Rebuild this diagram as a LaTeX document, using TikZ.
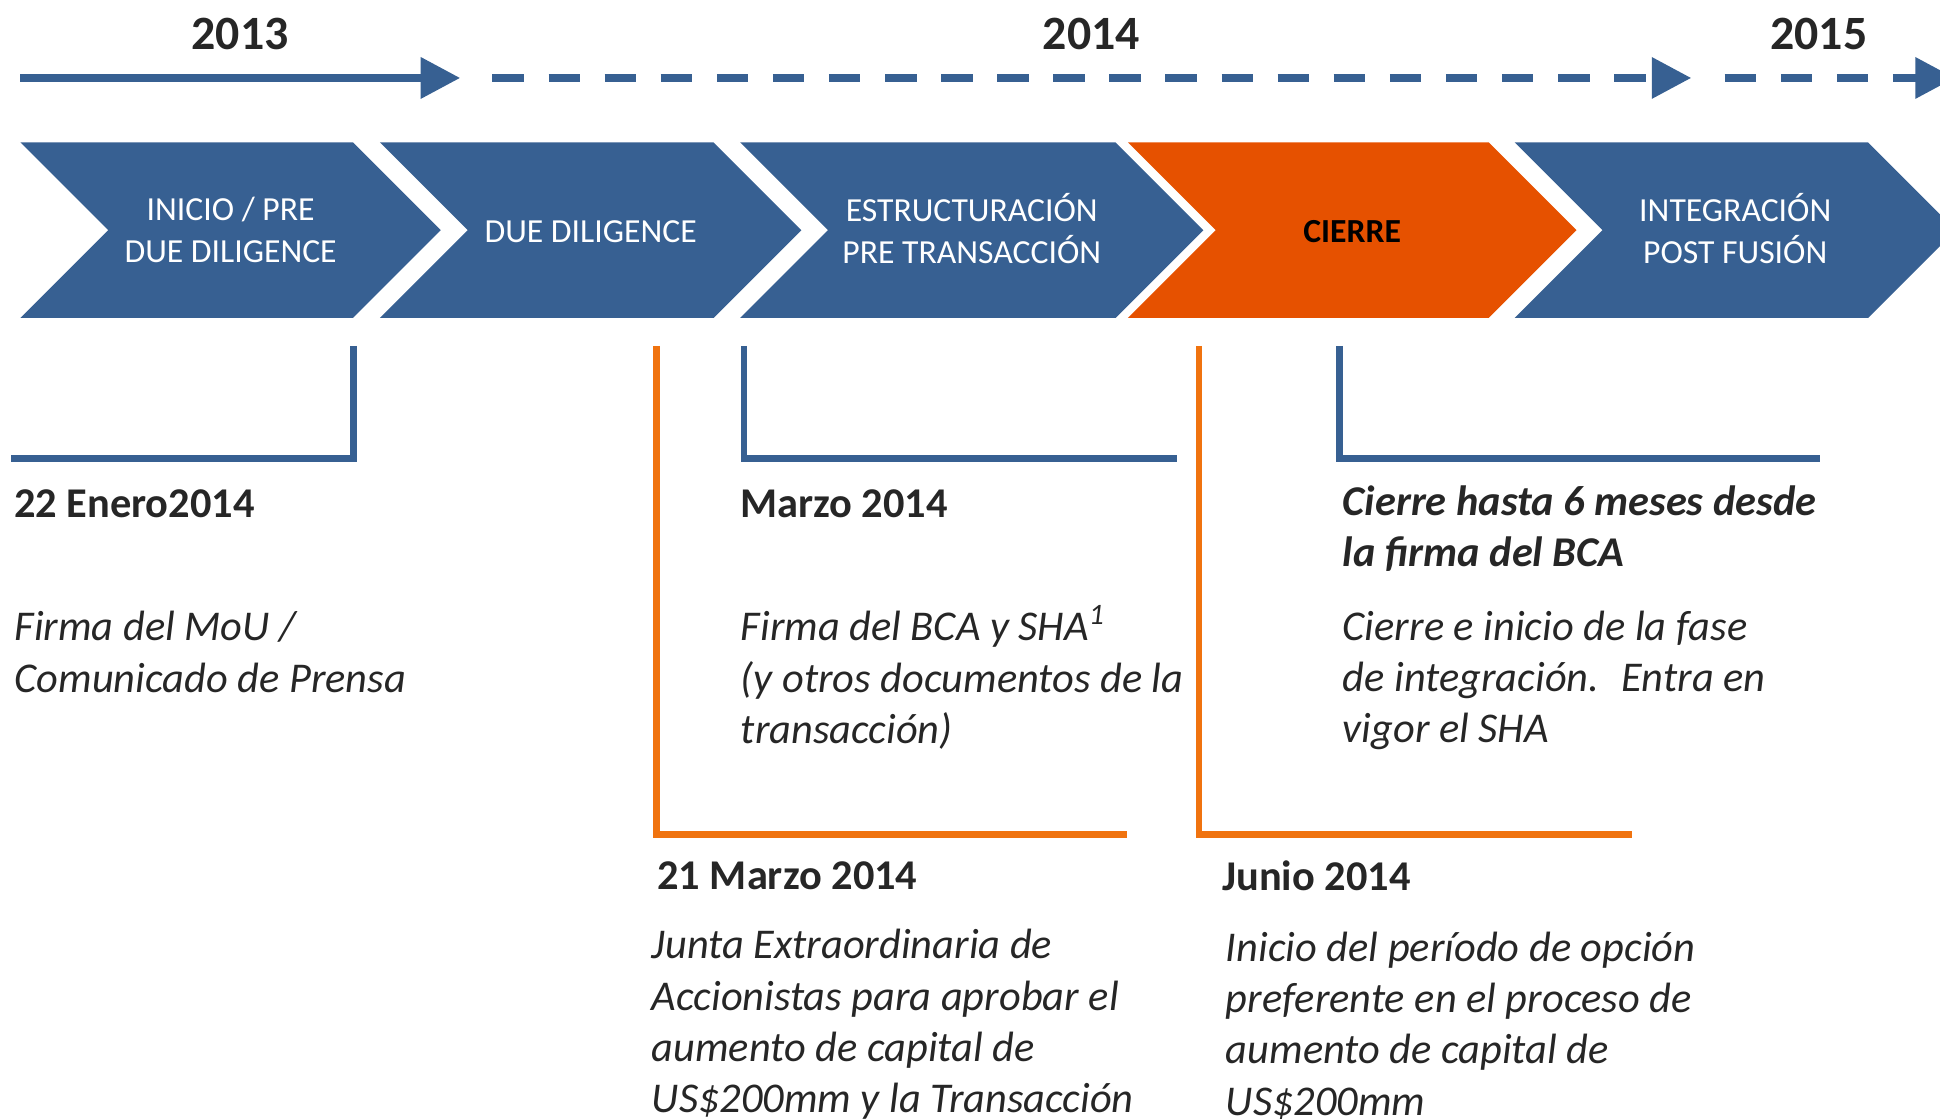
\documentclass[tikz,border=0pt]{standalone}
\usepackage{fontspec}
\setmainfont{Carlito}
\usepackage{xcolor}
\usetikzlibrary{arrows.meta}
\definecolor{azul}{HTML}{376092}
\definecolor{naranja}{HTML}{E65100}
\definecolor{naranjaclaro}{HTML}{F0730F}
\definecolor{textgris}{HTML}{262626}

\begin{document}
\begin{tikzpicture}[x=0.02cm, y=-0.02cm,
    fase/.style={align=center, text=white, font=\fontsize{15.5}{19.3}\selectfont},
    anio/.style={anchor=base, text=textgris, font=\fontsize{22}{26}\selectfont\bfseries},
    fecha/.style={anchor=base west, inner sep=0pt, text=textgris, font=\fontsize{19.5}{23.6}\selectfont\bfseries},
    detalle/.style={anchor=base west, inner sep=0pt, align=left, text=textgris, font=\fontsize{19.5}{23.6}\selectfont\itshape},
    linea/.style={line width=3.7pt, azul},
    punta/.style={-{Triangle[length=18.2pt, width=18.2pt]}},
    marca/.style={line width=3pt}
]
\useasboundingbox (0,0) rectangle (1568,904);

% Años
\node[anio] (a2013) at (194,40) {2013};
\node[anio] (a2014) at (882,40) {2014};
\node[anio] (a2015) at (1470,40) {2015};

% Línea de tiempo
\coordinate (t0) at (16.5,63);
\coordinate (t1) at (372,63);
\coordinate (t2) at (398,63);
\coordinate (t3) at (1367,63);
\coordinate (t4) at (1394,63);
\coordinate (t5) at (1580,63);
\draw[linea, punta] (t0) -- (t1);
\draw[linea, punta, dash pattern=on 14.5pt off 11.3pt] (t2) -- (t3);
\draw[linea, punta, dash pattern=on 14.5pt off 11.3pt] (t4) -- (t5);

% Fases
\fill[azul] (16.5,115) -- (285.3,115) -- ++(71,71) -- ++(-71,71) -- (16.5,257) -- ++(71,-71) -- cycle;
\fill[azul] (307,115) -- (576.7,115) -- ++(71,71) -- ++(-71,71) -- (307,257) -- ++(71,-71) -- cycle;
\fill[azul] (598.2,115) -- (901.6,115) -- ++(71,71) -- ++(-71,71) -- (598.2,257) -- ++(71,-71) -- cycle;
\fill[naranja] (911.6,115) -- (1203.2,115) -- ++(71,71) -- ++(-71,71) -- (911.6,257) -- ++(71,-71) -- cycle;
\fill[azul] (1224.2,115) -- (1509.8,115) -- ++(71,71) -- ++(-71,71) -- (1224.2,257) -- ++(71,-71) -- cycle;

\node[fase] (inicio) at (186.4,186) {INICIO / PRE\\DUE DILIGENCE};
\node[fase] (due) at (477.4,187.5) {DUE DILIGENCE};
\node[fase] (estructura) at (785.4,184.5) {ESTRUCTURACIÓN\\PRE TRANSACCIÓN};
\node[fase, text=black, font=\fontsize{15.5}{19.3}\selectfont\bfseries] (cierre) at (1092.9,187) {CIERRE};
\node[fase] (integracion) at (1402.5,184.5) {INTEGRACIÓN\\POST FUSIÓN};

% Marcas
\coordinate (m1) at (285.6,279.5);
\coordinate (m1f) at (9,370.6);
\coordinate (m2) at (530.7,279.5);
\coordinate (m2f) at (911,674.4);
\coordinate (m3) at (601.2,279.5);
\coordinate (m3f) at (951,370.6);
\coordinate (m4) at (969,279.5);
\coordinate (m4f) at (1319,674.4);
\coordinate (m5) at (1082.6,279.5);
\coordinate (m5f) at (1471,370.6);
\draw[marca, azul] (m1) |- (m1f);
\draw[marca, naranjaclaro] (m2) |- (m2f);
\draw[marca, azul] (m3) |- (m3f);
\draw[marca, naranjaclaro] (m4) |- (m4f);
\draw[marca, azul] (m5) |- (m5f);

% Hitos
\node[fecha] (enero) at (11,418) {22 Enero2014};
\node[detalle] (mou) at (11.5,559.5) {Firma del MoU /\\Comunicado de Prensa};
\node[fecha] (marzo) at (598,418) {Marzo 2014};
\node[detalle] (bca) at (598.5,601) {Firma del BCA y SHA\textsuperscript{1}\\(y otros documentos de la\\transacción)};
\node[detalle, font=\fontsize{19.5}{23.6}\selectfont\bfseries\itshape] (plazo) at (1085,458) {Cierre hasta 6 meses desde\\la firma del BCA};
\node[detalle] (vigor) at (1085,600.5) {Cierre e inicio de la fase\\de integración.~ Entra en\\vigor el SHA};
\node[fecha] (junta) at (531,719) {21 Marzo 2014};
\node[detalle] (aumento) at (526.5,899.4) {Junta Extraordinaria de\\Accionistas para aprobar el\\aumento de capital de\\US\$200mm y la Transacción};
\node[fecha] (junio) at (987.5,720) {Junio 2014};
\node[detalle] (opcion) at (990.5,901.4) {Inicio del período de opción\\preferente en el proceso de\\aumento de capital de\\US\$200mm};

\end{tikzpicture}
\end{document}
